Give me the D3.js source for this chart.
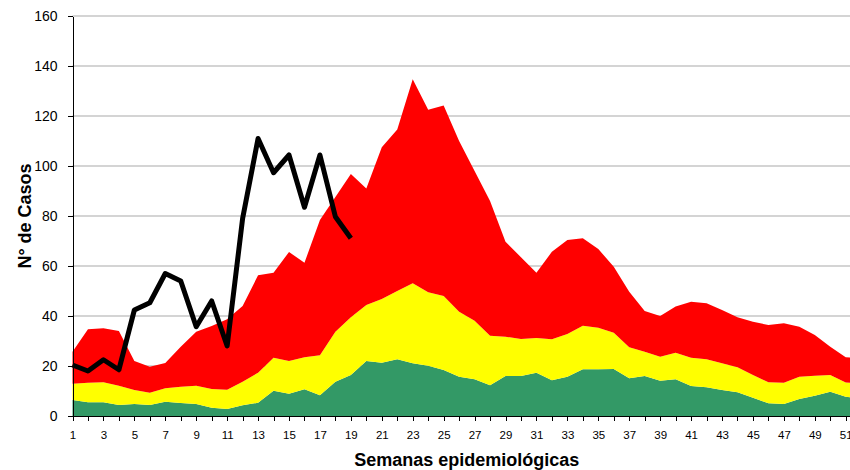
<!DOCTYPE html>
<html><head><meta charset="utf-8">
<script src="https://cdn.jsdelivr.net/npm/d3@7"></script>
<style>
body{margin:0;background:#fff}
svg{display:block}
text{font-family:"Liberation Sans",Arial,sans-serif;fill:#000}
</style>
</head><body>
<svg id="chart" width="850" height="470"></svg>
<script>
// ---- data ----
const weeks = d3.range(1, 53);
const green = [6.4,5.5,5.5,4.4,4.8,4.4,5.7,5.2,4.8,3.3,2.8,4.3,5.3,10.1,8.9,10.7,8.3,13.7,16.4,22.0,21.3,22.7,21.1,20.1,18.4,15.7,14.7,12.3,16.0,16.0,17.3,14.3,15.7,18.7,18.7,18.8,15.1,16.0,14.1,14.7,12.0,11.5,10.4,9.5,7.3,5.1,4.8,6.8,8.1,9.7,7.7,7.0];
const yellow = [6.5,7.8,8.0,7.7,5.6,4.9,5.4,6.5,7.3,7.5,7.7,9.4,12.0,13.2,13.1,12.8,16.0,20.0,23.1,22.4,25.5,27.3,32.0,29.4,29.6,26.0,23.4,19.8,15.7,14.8,13.9,16.4,17.1,17.4,16.6,14.5,12.4,9.7,9.6,10.6,11.3,11.2,10.7,10.0,9.1,8.4,8.5,8.9,8.0,6.7,5.7,6.0];
const red = [12.8,21.4,21.6,21.9,11.6,10.4,10.1,16.0,21.6,25.2,28.2,30.3,39.0,34.0,43.6,37.8,54.1,53.9,57.3,46.6,60.7,64.6,81.6,73.0,76.2,68.3,59.9,53.9,38.0,32.7,26.1,35.0,37.6,35.0,31.5,26.4,22.2,16.3,16.3,18.5,22.4,22.4,21.3,20.0,21.3,22.9,23.8,20.0,16.3,11.3,10.1,10.0];
const currentWeeks = d3.range(1, 20);
const current = [20.4,18,22.5,18.5,42.4,45.3,57,54,35.7,46,28,79,111,97.3,104.4,83.5,104.4,79.7,71.1];
const yTicks = [0,20,40,60,80,100,120,140,160];
const colors = {green:"#339966", yellow:"#FFFF00", red:"#FF0000"};

// ---- layout ----
const svg = d3.select("#chart");
const x = d3.scaleLinear().domain([1, 52]).range([72.5, 861.2]);
const y = d3.scaleLinear().domain([0, 160]).range([416, 16]);

// gridlines
svg.append("g").selectAll("line").data(yTicks.filter(d => d > 0)).join("line")
  .attr("x1", x(1)).attr("x2", 850)
  .attr("y1", d => y(d)).attr("y2", d => y(d))
  .attr("stroke", "#c6c6c6").attr("stroke-width", 1.6);

// stacked areas
const table = weeks.map((w, i) => ({week: w, green: green[i], yellow: yellow[i], red: red[i]}));
const stack = d3.stack().keys(["green", "yellow", "red"]);
const series = stack(table);
const area = d3.area()
  .x(d => x(d.data.week))
  .y0(d => y(d[0]))
  .y1(d => y(d[1]));
svg.append("g").selectAll("path").data(series).join("path")
  .attr("fill", d => colors[d.key])
  .attr("d", area);

// axes
const yAxis = d3.axisLeft(y).tickValues(yTicks).tickSize(5).tickSizeOuter(0).tickPadding(10);
const gy = svg.append("g").attr("transform", "translate(" + x(1) + ",0)").call(yAxis);
gy.selectAll("text").style("font-size", "14px");

const xAxis = d3.axisBottom(x).tickValues(weeks).tickSize(5).tickSizeOuter(0).tickPadding(10)
  .tickFormat(d => (d % 2 === 1 ? String(d) : ""));
const gx = svg.append("g").attr("transform", "translate(0," + y(0) + ")").call(xAxis);
gx.selectAll("text").style("font-size", "11.5px");

svg.selectAll(".domain, .tick line").attr("stroke", "#000").attr("stroke-width", 1).attr("shape-rendering", "crispEdges");

// current year line
const line = d3.line().x((d, i) => x(currentWeeks[i])).y(d => y(d));
svg.append("path").datum(current)
  .attr("fill", "none").attr("stroke", "#000").attr("stroke-width", 5)
  .attr("stroke-linejoin", "round").attr("stroke-linecap", "butt")
  .attr("d", line);

// titles
svg.append("text").attr("x", (x(1) + x(52)) / 2).attr("y", 466)
  .attr("text-anchor", "middle").style("font-size", "18px").style("font-weight", "bold")
  .text("Semanas epidemiológicas");
svg.append("text").attr("transform", "translate(31," + ((y(0) + y(160)) / 2) + ") rotate(-90)")
  .attr("text-anchor", "middle").style("font-size", "18px").style("font-weight", "bold")
  .text("N° de Casos");
</script>
</body></html>
